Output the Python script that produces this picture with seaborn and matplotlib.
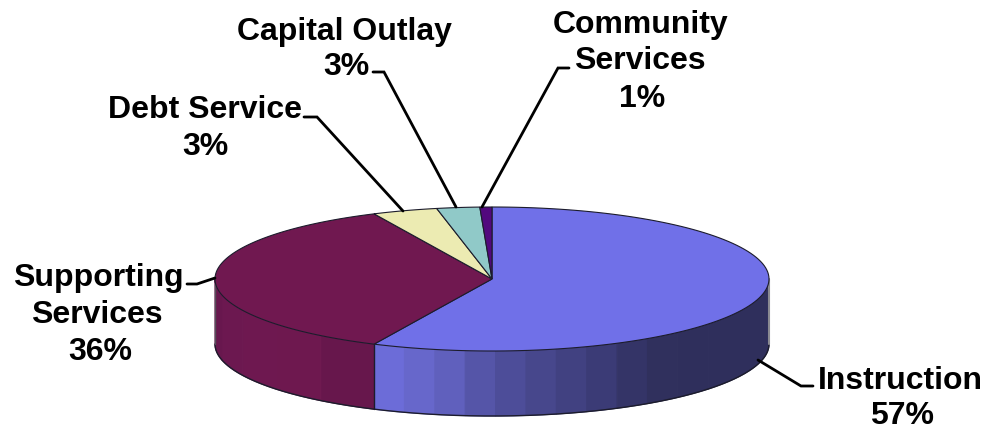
import numpy as np
import matplotlib
matplotlib.use('Agg')
import matplotlib.pyplot as plt
import seaborn as sns

# slice shares, printed labels are rounded differently
categories = ['Instruction', 'Supporting Services', 'Debt Service', 'Capital Outlay', 'Community Services']
shares = [57.0, 36.0, 3.8, 2.5, 0.7]
label_lines = [['Instruction', '57%'],
               ['Supporting', 'Services', '36%'],
               ['Debt Service', '3%'],
               ['Capital Outlay', '3%'],
               ['Community', 'Services', '1%']]
top_colors = ['#7070e8', '#701850', '#ecebb2', '#90c9c8', '#52087e']

label_x = [[900, 902], [98, 97, 100], [205, 205], [344, 346], [641, 640, 642]]
label_y = [[389, 424], [286, 323, 360], [118, 155], [40, 75], [33, 69, 107]]
leaders = [[(758, 361), (801, 387), (813, 387)],
           [(215, 279), (197, 285), (187, 285)],
           [(403, 212), (317, 118), (304, 118)],
           [(456, 208), (384, 73), (373, 73)],
           [(482, 208), (558, 69), (569, 69)]]

cx, cy, rx, ry, depth = 492, 280, 277, 72, 65
edge = '#1c1c2c'

sns.set_theme(style='white')
plt.rcParams['font.family'] = ['Liberation Sans', 'DejaVu Sans']

fig = plt.figure(figsize=(9.88, 4.31), dpi=100)
ax = fig.add_axes([0, 0, 1, 1])
ax.set_xlim(0, 988)
ax.set_ylim(431, 0)
ax.axis('off')


def arc(t0, t1, drop=0, n=120):
    # angles are degrees clockwise from the top of the pie
    t = np.radians(np.linspace(t0, t1, n))
    return cx + rx * np.sin(t), cy - ry * np.cos(t) + drop


bounds = np.concatenate([[0], np.cumsum(shares)]) / sum(shares) * 360


def side_band(t0, t1, color):
    x0, y0 = arc(t0, t1)
    x1, y1 = arc(t1, t0, depth)
    ax.fill(np.r_[x0, x1], np.r_[y0, y1], facecolor=color, edgecolor=color, lw=0.8, zorder=2)


# side wall of instruction slice, banded from light to dark going right
x_edges = np.linspace(cx + rx * np.sin(np.radians(bounds[1])), cx + rx, 14)
band_angles = 180 - np.degrees(np.arcsin(np.clip((x_edges - cx) / rx, -1, 1)))
blues = sns.blend_palette(['#6c6cd8', '#6363c2', '#5050a0', '#46468a', '#3c3c78', '#30305e', '#2f2f5c', '#2f2f5c'], 13)
for i, c in enumerate(blues):
    side_band(band_angles[i + 1], band_angles[i], c)

# side wall of supporting slice
plums = ['#67174c', '#6e184f', '#6e1850', '#6c1850', '#68174e']
s_edges = np.linspace(bounds[1], 270, len(plums) + 1)
for i, c in enumerate(plums):
    side_band(s_edges[i], s_edges[i + 1], c)

# outline of the walls
xb, yb = arc(90, 270, depth, 300)
ax.plot(xb, yb, color=edge, lw=1.0, zorder=3)
ax.plot([cx + rx, cx + rx], [cy, cy + depth], color='#8a8a92', lw=1.5, zorder=3)
ax.plot([cx - rx, cx - rx], [cy, cy + depth], color='#55505a', lw=1.0, zorder=3)
xs, ys = arc(bounds[1], bounds[1])
ax.plot([xs[0], xs[0]], [ys[0], ys[0] + depth], color=edge, lw=1.0, zorder=3)

# top face
for i, c in enumerate(top_colors):
    x, y = arc(bounds[i], bounds[i + 1])
    ax.fill(np.r_[cx, x], np.r_[cy, y], facecolor=c, edgecolor=edge, lw=0.8, zorder=4)

# leader lines and labels
for pts, xs_, ys_, lines in zip(leaders, label_x, label_y, label_lines):
    px, py = zip(*pts)
    ax.plot(px, py, color='black', lw=2.0, solid_joinstyle='miter', zorder=5)
    for x, y, line in zip(xs_, ys_, lines):
        ax.text(x, y, line, ha='center', va='baseline', fontsize=23, fontweight='bold', color='black', zorder=6)

fig.savefig('out.png', dpi=100)
